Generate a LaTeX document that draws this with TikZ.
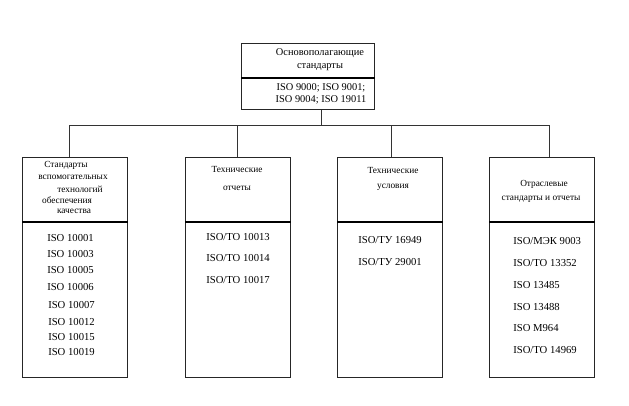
\documentclass[tikz,border=0pt]{standalone}
\usepackage{fontspec}
\setmainfont{Liberation Serif}
\begin{document}
\begin{tikzpicture}[x=0.75pt,y=-0.75pt,
  box/.style={draw=black!85,line width=0.75pt,anchor=north west,inner sep=0pt,minimum width=78.75pt,minimum height=165pt},
  topbox/.style={draw=black!85,line width=0.75pt,anchor=north west,inner sep=0pt,minimum width=99.75pt,minimum height=49.5pt},
  conn/.style={draw=black!80,line width=0.75pt},
  divider/.style={draw=black,line width=1pt},
  hd/.style={font=\fontsize{7}{8}\selectfont,inner sep=0pt,anchor=center},
  th/.style={font=\fontsize{7.8}{9}\selectfont,inner sep=0pt,anchor=center},
  it/.style={font=\fontsize{8}{9}\selectfont,inner sep=0pt,anchor=west}]
\useasboundingbox (0,0) rectangle (629,405);
% boxes
\node[topbox] (top) at (241,43) {};
\node[box] (b1) at (22,157) {};
\node[box] (b2) at (185,157) {};
\node[box] (b3) at (337,157) {};
\node[box] (b4) at (489,157) {};
% dividers
\coordinate (d0) at (241,78);
\draw[divider] (d0) -- (d0 -| top.east);
\coordinate (d1) at (22,222);
\draw[divider] (d1) -- (d1 -| b1.east);
\coordinate (d2) at (185,222);
\draw[divider] (d2) -- (d2 -| b2.east);
\coordinate (d3) at (337,222);
\draw[divider] (d3) -- (d3 -| b3.east);
\coordinate (d4) at (489,222);
\draw[divider] (d4) -- (d4 -| b4.east);
% connectors
\coordinate (bus) at (321,125);
\coordinate (j1) at (69,125);
\coordinate (j2) at (237,125);
\coordinate (j3) at (391,125);
\coordinate (j4) at (549,125);
\draw[conn] (top.south -| bus) -- (bus);
\draw[conn] (j1) -- (j4);
\draw[conn] (j1) -- (j1 |- b1.north);
\draw[conn] (j2) -- (j2 |- b2.north);
\draw[conn] (j3) -- (j3 |- b3.north);
\draw[conn] (j4) -- (j4 |- b4.north);
% top texts
\node[th] (t1) at (320,53) {Основополагающие};
\node[th] (t2) at (320,67) {стандарты};
\node[th] (t3) at (321,88) {ISO 9000; ISO 9001;};
\node[th] (t4) at (321,100) {ISO 9004; ISO 19011};
% box 1
\node[hd] (h11) at (66,165) {Стандарты};
\node[hd] (h12) at (73,177) {вспомогательных};
\node[hd] (h13) at (80,189) {технологий};
\node[hd] (h14) at (67,200) {обеспечения};
\node[hd] (h15) at (74,211) {качества};
\node[it] (i11) at (47,238) {ISO 10001};
\node[it] (i12) at (47,254) {ISO 10003};
\node[it] (i13) at (47,270) {ISO 10005};
\node[it] (i14) at (47,287) {ISO 10006};
\node[it] (i15) at (48,305) {ISO 10007};
\node[it] (i16) at (48,322) {ISO 10012};
\node[it] (i17) at (48,337) {ISO 10015};
\node[it] (i18) at (48,352) {ISO 10019};
% box 2
\node[hd] (h21) at (237,169) {Технические};
\node[hd] (h22) at (237,188) {отчеты};
\node[it] (i21) at (206,237) {ISO/TO 10013};
\node[it] (i22) at (206,258) {ISO/TO 10014};
\node[it] (i23) at (206,280) {ISO/TO 10017};
% box 3
\node[hd] (h31) at (393,170) {Технические};
\node[hd] (h32) at (393,187) {условия};
\node[it] (i31) at (358,240) {ISO/ТУ 16949};
\node[it] (i32) at (358,262) {ISO/ТУ 29001};
% box 4
\node[hd] (h41) at (544,184) {Отраслевые};
\node[hd] (h42) at (541,199) {стандарты и отчеты};
\node[it] (i41) at (513,241) {ISO/МЭК 9003};
\node[it] (i42) at (513,263) {ISO/TO 13352};
\node[it] (i43) at (513,285) {ISO 13485};
\node[it] (i44) at (513,307) {ISO 13488};
\node[it] (i45) at (513,328) {ISO M964};
\node[it] (i46) at (513,350) {ISO/TO 14969};
\end{tikzpicture}
\end{document}
